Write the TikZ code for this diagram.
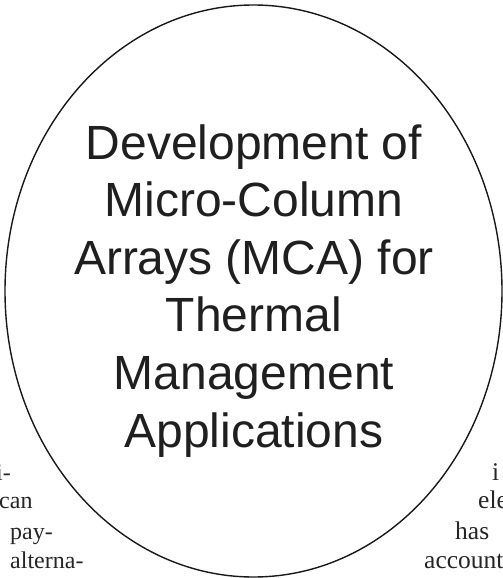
\documentclass[tikz,border=0pt]{standalone}
\usepackage{fontspec}
\setmainfont{Liberation Serif}
\newfontfamily\headfont{Liberation Sans}
\usetikzlibrary{shapes.geometric}
\begin{document}
\begin{tikzpicture}[x=1pt,y=-1pt,
  outline/.style={draw=black!90, line width=1.4pt, ellipse, inner sep=0pt, outer sep=0pt,
                  minimum width=497pt, minimum height=572pt},
  headline/.style={align=center, inner sep=0pt, text=black!88,
                   font=\headfont\fontsize{48}{57.6}\selectfont},
  bodyword/.style={anchor=base west, inner sep=0pt, text=black!85,
                   font=\fontsize{24}{29}\selectfont},
  bodywordr/.style={bodyword, font=\fontsize{25.5}{29}\selectfont}]
\useasboundingbox (0,0) rectangle (503,578);
% running text of the page behind the oval
\node[bodyword] (l0) at (-4,480) {i-};
\node[bodyword] (l1) at (-1,508) {can};
\node[bodyword] (l2a) at (-11,539) {a};
\node[bodyword] (l2) at (10,539) {pay-};
\node[bodyword] (l3) at (10,568) {alterna-};
\node[bodywordr] (r0) at (492,480) {i};
\node[bodywordr] (r1) at (478,508) {ele};
\node[bodywordr] (r2) at (455,539) {has};
\node[bodywordr] (r3) at (424,568) {account};
% the oval with its heading (anchored on the baseline of its last line)
\node[outline, fill=white] (oval) at (253.5,291) {};
\node[headline, anchor=base] (head) at (254,447)
  {Development of\\Micro-Column\\Arrays (MCA) for\\Thermal\\Management\\Applications};
\end{tikzpicture}
\end{document}
